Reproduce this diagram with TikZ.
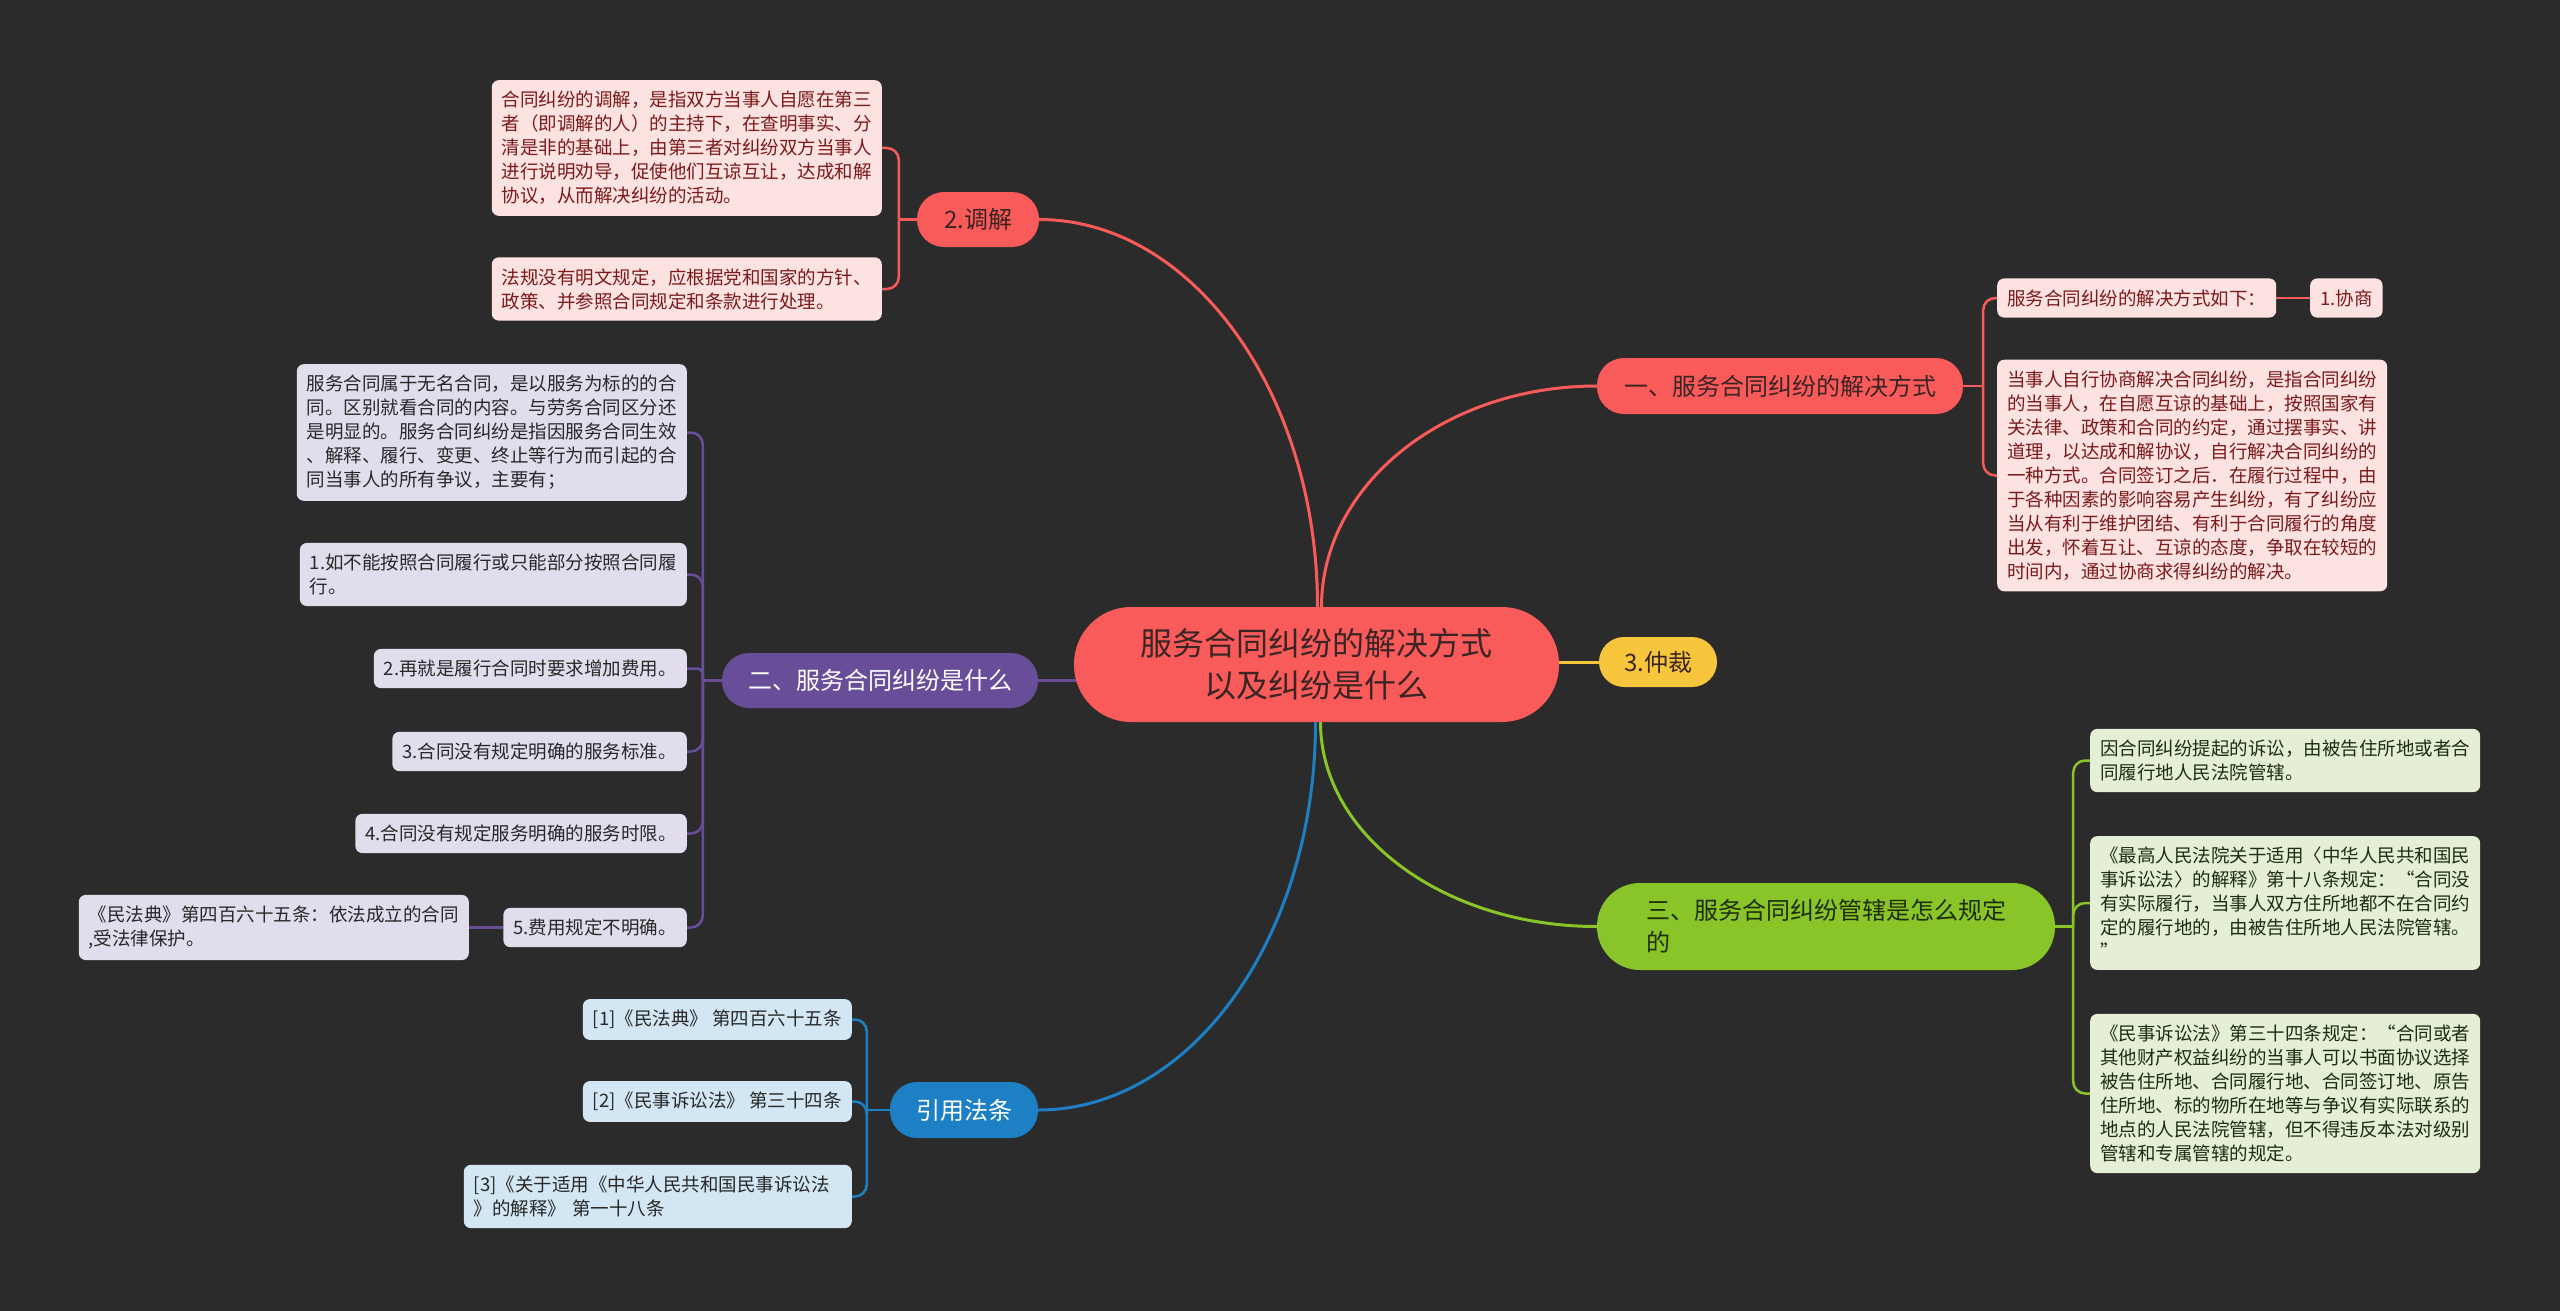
\documentclass[tikz,border=0pt]{standalone}
\usepackage{fontspec}
\setmainfont{Noto Sans CJK SC}
\usetikzlibrary{calc}
\pgfdeclarelayer{background}
\pgfsetlayers{background,main}
\definecolor{bgc}{RGB}{43,43,43}
\definecolor{cred}{RGB}{249,90,90}
\definecolor{cdark}{RGB}{58,36,36}
\definecolor{cpink}{RGB}{253,226,226}
\definecolor{cpinktext}{RGB}{122,26,26}
\definecolor{cpurple}{RGB}{104,78,152}
\definecolor{clav}{RGB}{226,221,236}
\definecolor{cblue}{RGB}{30,128,196}
\definecolor{clblue}{RGB}{211,230,243}
\definecolor{cgreen}{RGB}{137,196,40}
\definecolor{clgreen}{RGB}{228,239,213}
\definecolor{cgreentext}{RGB}{30,45,15}
\definecolor{cyellow}{RGB}{247,198,60}
\definecolor{ctext}{RGB}{40,40,40}
\tikzset{
  central/.style={fill=cred, text=cdark, rounded corners=57pt, minimum width=485pt,
    minimum height=115pt, align=center, inner sep=0pt, font=\fontsize{32}{42}\selectfont},
  branch/.style={rounded corners=27pt, minimum height=55pt, inner sep=0pt,
    font=\fontsize{24}{32}\selectfont},
  leaf/.style={rounded corners=7pt, inner xsep=10pt, inner ysep=11pt, align=left,
    font=\fontsize{18.5}{24}\selectfont},
  pinkleaf/.style={leaf, fill=cpink, text=cpinktext},
  lavleaf/.style={leaf, fill=clav, text=ctext},
  blueleaf/.style={leaf, fill=clblue, text=ctext},
  greenleaf/.style={leaf, fill=clgreen, text=cgreentext},
  conn/.style={line width=3pt},
  brk/.style={line width=2.5pt, rounded corners=12pt}
}
\begin{document}
\begin{tikzpicture}[x=1pt,y=-1pt]
\begin{pgfonlayer}{background}
\fill[bgc] (0,0) rectangle (2560,1311);
\end{pgfonlayer}
\useasboundingbox (0,0) rectangle (2560,1311);

% central and branch nodes
\node[central] (root) at (1316.5,664.5) {服务合同纠纷的解决方式\\以及纠纷是什么};
\node[branch, fill=cred, text=cdark, minimum width=122pt] (tj) at (978,219.5) {2.调解};
\node[branch, fill=cyellow, text=cdark, minimum width=118pt, minimum height=50pt, rounded corners=25pt] (zc) at (1658,662) {3.仲裁};
\node[branch, fill=cred, text=cdark, minimum width=366pt, minimum height=56pt] (b1) at (1780,386) {一、服务合同纠纷的解决方式};
\node[branch, fill=cpurple, text=white, minimum width=316pt] (b2) at (880,680.5) {二、服务合同纠纷是什么};
\node[branch, fill=cgreen, text=cgreentext, minimum width=458pt, minimum height=87pt, rounded corners=43pt, align=left] (b3) at (1826,926.5) {三、服务合同纠纷管辖是怎么规定\\的};
\node[branch, fill=cblue, text=white, minimum width=148pt, minimum height=56pt] (b4) at (964,1110) {引用法条};

% 2.调解 leaves
\node[pinkleaf, anchor=east] (la) at (882,148) {合同纠纷的调解，是指双方当事人自愿在第三\\者（即调解的人）的主持下，在查明事实、分\\清是非的基础上，由第三者对纠纷双方当事人\\进行说明劝导，促使他们互谅互让，达成和解\\协议，从而解决纠纷的活动。};
\node[pinkleaf, anchor=east] (lb) at (882,289) {法规没有明文规定，应根据党和国家的方针、\\政策、并参照合同规定和条款进行处理。};

% 二 leaves
\node[lavleaf, anchor=east] (p0) at (687,432.5) {服务合同属于无名合同，是以服务为标的的合\\同。区别就看合同的内容。与劳务合同区分还\\是明显的。服务合同纠纷是指因服务合同生效\\、解释、履行、变更、终止等行为而引起的合\\同当事人的所有争议，主要有；};
\node[lavleaf, anchor=east] (p1) at (687,574.5) {1.如不能按照合同履行或只能部分按照合同履\\行。};
\node[lavleaf, anchor=east] (p2) at (687,668.5) {2.再就是履行合同时要求增加费用。};
\node[lavleaf, anchor=east] (p3) at (687,751.5) {3.合同没有规定明确的服务标准。};
\node[lavleaf, anchor=east] (p4) at (687,833.5) {4.合同没有规定服务明确的服务时限。};
\node[lavleaf, anchor=east] (p5) at (687,927.5) {5.费用规定不明确。};
\node[lavleaf, anchor=east] (p5a) at (469,927.5) {《民法典》第四百六十五条：依法成立的合同\\,受法律保护。};

% 引用法条 leaves
\node[blueleaf, anchor=east] (c1) at (852,1019.5) {[1]《民法典》 第四百六十五条};
\node[blueleaf, anchor=east] (c2) at (852,1101.5) {[2]《民事诉讼法》 第三十四条};
\node[blueleaf, anchor=east, text width=368pt] (c3) at (852,1196.5) {[3]《关于适用《中华人民共和国民事诉讼法\\》的解释》 第一十八条};

% 一 leaves
\node[pinkleaf, anchor=west] (r1) at (1997,298) {服务合同纠纷的解决方式如下：};
\node[pinkleaf, anchor=west] (xs) at (2310,298) {1.协商};
\node[pinkleaf, anchor=west] (r2) at (1997,475.5) {当事人自行协商解决合同纠纷，是指合同纠纷\\的当事人，在自愿互谅的基础上，按照国家有\\关法律、政策和合同的约定，通过摆事实、讲\\道理，以达成和解协议，自行解决合同纠纷的\\一种方式。合同签订之后．在履行过程中，由\\于各种因素的影响容易产生纠纷，有了纠纷应\\当从有利于维护团结、有利于合同履行的角度\\出发，怀着互让、互谅的态度，争取在较短的\\时间内，通过协商求得纠纷的解决。};

% 三 leaves
\node[greenleaf, anchor=west] (g1) at (2090,760.5) {因合同纠纷提起的诉讼，由被告住所地或者合\\同履行地人民法院管辖。};
\node[greenleaf, anchor=west] (g2) at (2090,903) {《最高人民法院关于适用〈中华人民共和国民\\事诉讼法〉的解释》第十八条规定：“合同没\\有实际履行，当事人双方住所地都不在合同约\\定的履行地的，由被告住所地人民法院管辖。\\”};
\node[greenleaf, anchor=west] (g3) at (2090,1093.5) {《民事诉讼法》第三十四条规定：“合同或者\\其他财产权益纠纷的当事人可以书面协议选择\\被告住所地、合同履行地、合同签订地、原告\\住所地、标的物所在地等与争议有实际联系的\\地点的人民法院管辖，但不得违反本法对级别\\管辖和专属管辖的规定。};

% bracket junction coordinates
\coordinate (jtj) at ($(tj.west)+(-18,0)$);
\coordinate (jb2) at ($(b2.west)+(-19,0)$);
\coordinate (jb4) at ($(b4.west)+(-23,0)$);
\coordinate (jb1) at ($(b1.east)+(20,0)$);
\coordinate (jb3) at ($(b3.east)+(18,0)$);

\begin{pgfonlayer}{background}
% main connectors
\draw[conn, cred] ([xshift=1pt]root.north) .. controls (1317.5,393) and (1192,219.5) .. (tj.east);
\draw[conn, cred] ([xshift=5pt]root.north) .. controls (1321.5,485) and (1444,386) .. (b1.west);
\draw[conn, cgreen] ([xshift=4pt]root.south) .. controls (1320.5,835) and (1444,926.5) .. (b3.west);
\draw[conn, cblue] ([xshift=-1pt]root.south) .. controls (1315.5,936) and (1192,1110) .. (b4.east);
\draw[conn, cyellow] (root.center |- zc.west) -- (zc.west);
\draw[conn, cpurple] (root.center |- b2.east) -- (b2.east);

% brackets
\draw[brk, cred] (tj.west) -- (jtj);
\draw[brk, cred] (jtj) |- (la.east);
\draw[brk, cred] (jtj) |- (lb.east);

\draw[brk, cpurple] (b2.west) -- (jb2);
\foreach \n in {p0,p1,p3,p4,p5} { \draw[brk, cpurple] (jb2) |- (\n.east); }
\draw[brk, cpurple, rounded corners=6pt] (jb2) |- (p2.east);
\draw[brk, cpurple] (p5.west) -- (p5a.east);

\draw[brk, cblue] (b4.west) -- (jb4);
\foreach \n in {c1,c2,c3} { \draw[brk, cblue] (jb4) |- (\n.east); }

\draw[brk, cred] (b1.east) -- (jb1);
\foreach \n in {r1,r2} { \draw[brk, cred] (jb1) |- (\n.west); }
\draw[brk, cred] (r1.east) -- (xs.west);

\draw[brk, cgreen] (b3.east) -- (jb3);
\foreach \n in {g1,g2,g3} { \draw[brk, cgreen] (jb3) |- (\n.west); }
\end{pgfonlayer}
\end{tikzpicture}
\end{document}
